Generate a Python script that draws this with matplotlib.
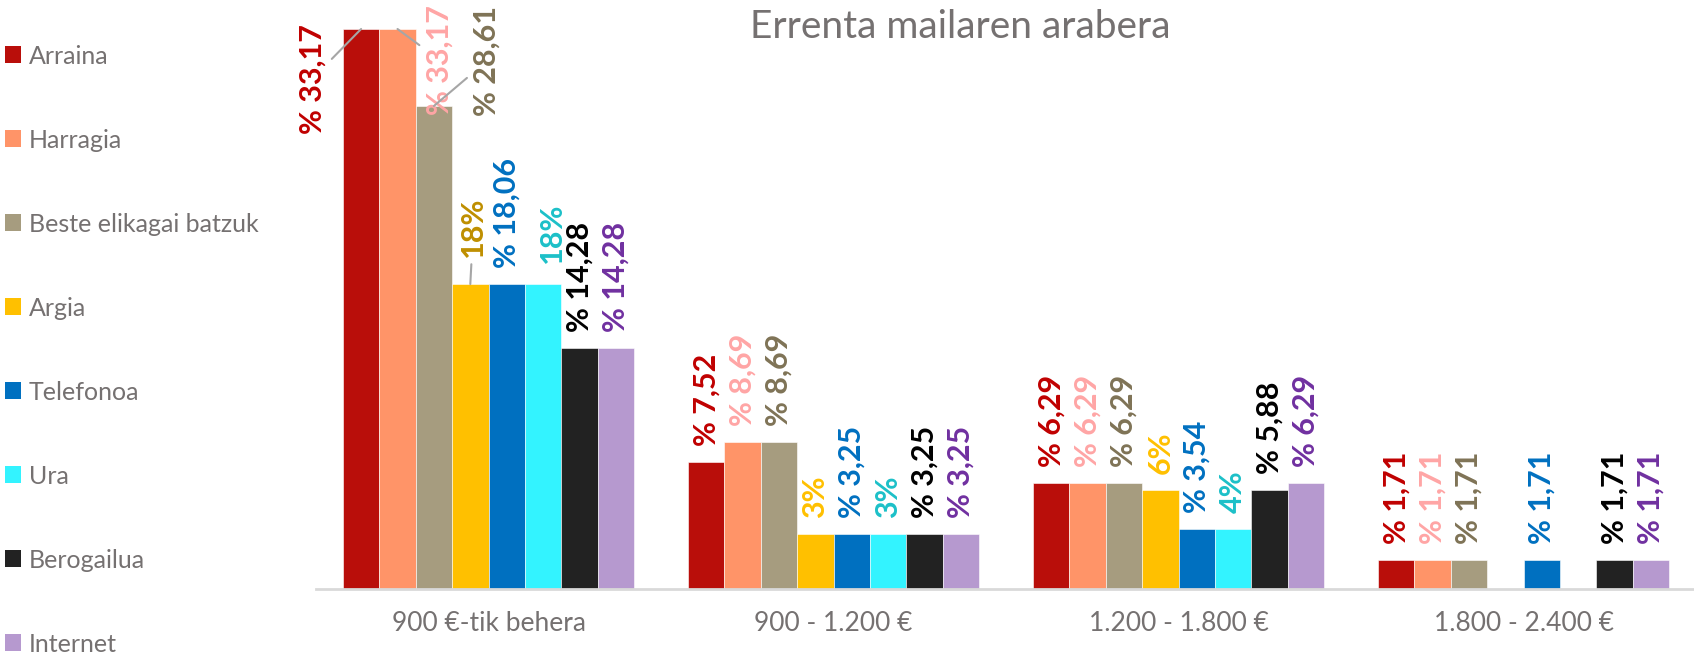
import numpy as np
import matplotlib
matplotlib.use("Agg")
import matplotlib.pyplot as plt
from matplotlib.patches import Patch

plt.rcParams['font.family'] = ['Lato', 'DejaVu Sans']

categories = ['900 €-tik behera', '900 - 1.200 €', '1.200 - 1.800 €', '1.800 - 2.400 €']
series = ['Arraina', 'Harragia', 'Beste elikagai batzuk', 'Argia',
          'Telefonoa', 'Ura', 'Berogailua', 'Internet']

arraina = [33.17, 7.52, 6.29, 1.71]
harragia = [33.17, 8.69, 6.29, 1.71]
beste = [28.61, 8.69, 6.29, 1.71]
argia = [18.06, 3.25, 5.88, np.nan]
telefonoa = [18.06, 3.25, 3.54, 1.71]
ura = [18.06, 3.25, 3.54, np.nan]
berogailua = [14.28, 3.25, 5.88, 1.71]
internet = [14.28, 3.25, 6.29, 1.71]
values = [arraina, harragia, beste, argia, telefonoa, ura, berogailua, internet]

bar_colors = ['#B90E0A', '#FF9468', '#A69C7F', '#FFC000',
              '#0070C0', '#33F3FF', '#222222', '#B699CF']
label_colors = ['#C00000', '#FFA5A5', '#7F7356', '#FFC000',
                '#0070C0', '#1CC0C8', '#000000', '#7030A0']
# Argia / Ura labels are shown rounded with the % after the number
short_fmt = [False, False, False, True, False, True, False, False]

GRAY = '#757171'

fig = plt.figure(figsize=(16.94, 6.56), dpi=100)
ax = fig.add_axes([316 / 1694, 67 / 656, 1380 / 1694, 560 / 656])

n = len(series)
w = 0.1055
x = np.arange(len(categories))

# label offsets (pixels) for labels that were moved by hand in the original
moved = {
    (0, 0): (-49, -50, True),
    (1, 0): (42, -31, True),
    (2, 0): (53, 45, True),
    (3, 0): (3, 57, True),
    (5, 0): (9, 51, False),
}

for j in range(n):
    xs = x + (j - (n - 1) / 2) * w
    ax.bar(xs, values[j], width=w, color=bar_colors[j], edgecolor='white',
           linewidth=0.4)
    lc = label_colors[j]
    for i, v in enumerate(values[j]):
        if np.isnan(v):
            continue
        if short_fmt[j]:
            txt = f"{round(v)}%"
        else:
            txt = "% " + f"{v:.2f}".replace('.', ',')
        c = lc
        if j == 3 and i == 0:
            c = '#BF8F00'
        if (j, i) in moved:
            dx, dy, leader = moved[(j, i)]
            ap = None
            if leader:
                ap = dict(arrowstyle='-', color='#A6A6A6', lw=1.5,
                          shrinkA=3, shrinkB=0)
            ax.annotate(txt, xy=(xs[i], v), xytext=(dx, dy),
                        textcoords='offset pixels', rotation=90,
                        ha='center', va='center', fontsize=22,
                        fontweight='bold', color=c, arrowprops=ap,
                        annotation_clip=False)
        else:
            ax.annotate(txt, xy=(xs[i], v), xytext=(0, 16),
                        textcoords='offset pixels', rotation=90,
                        ha='center', va='bottom', fontsize=22,
                        fontweight='bold', color=c, annotation_clip=False)

ax.set_xlim(-0.5, 3.5)
ax.set_ylim(0, 33.17)
for s in ['top', 'right', 'left']:
    ax.spines[s].set_visible(False)
ax.spines['bottom'].set_color('#D9D9D9')
ax.spines['bottom'].set_linewidth(2)
ax.set_yticks([])
ax.set_xticks(x)
ax.set_xticklabels(categories, fontsize=19, color=GRAY)
ax.tick_params(axis='x', length=0, pad=16)

fig.text(960 / 1694, 1 - 27 / 656, 'Errenta mailaren arabera',
         ha='center', va='center', fontsize=28, color=GRAY)

handles = [Patch(facecolor=c, edgecolor='none') for c in bar_colors]
fig.legend(handles, series, loc='upper left', bbox_to_anchor=(0.003, 0.932),
           frameon=False, fontsize=18, labelcolor=GRAY, labelspacing=2.44,
           handlelength=0.65, handleheight=0.65, handletextpad=0.3,
           borderaxespad=0, borderpad=0)

fig.savefig('out.png', dpi=100)
